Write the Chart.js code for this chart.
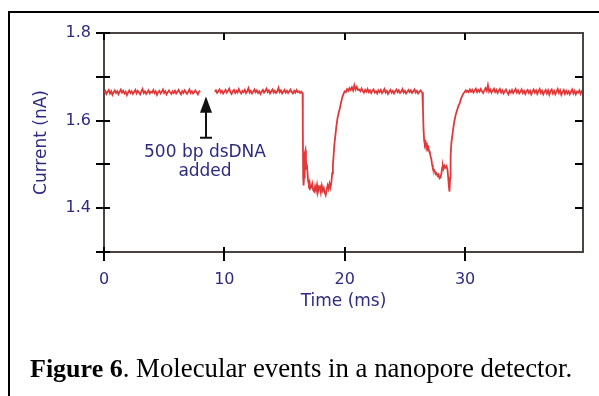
<!DOCTYPE html>
<html>
<head>
<meta charset="utf-8">
<script src="https://cdn.jsdelivr.net/npm/chart.js@4.4.1/dist/chart.umd.min.js"></script>
<style>
  html, body { margin: 0; padding: 0; background: #fff; }
  #wrap { position: relative; width: 599px; height: 396px; overflow: hidden; }
  #frame { position: absolute; left: 8px; top: 11px; width: 620px; height: 420px; border-left: 2px solid #000; border-top: 2px solid #000; }
  canvas { position: absolute; left: 0; top: 0; }
</style>
</head>
<body>
<div id="wrap">
  <div id="frame"></div>
  <canvas id="c" width="599" height="396"></canvas>
</div>
<script>
// ---------------- data ----------------
const xTicks = [0, 10, 20, 30];
const xTickLabels = ['0', '10', '20', '30'];
const yTicks = [1.4, 1.6, 1.8];
const yTickLabels = ['1.4', '1.6', '1.8'];
const yMinorTicks = [1.3, 1.5, 1.7];
const xTitle = 'Time (ms)';
const yTitle = 'Current (nA)';
const captionBold = 'Figure 6';
const captionRest = '. Molecular events in a nanopore detector.';

// baseline before DNA added (t = 0 .. 8.0 ms, every 0.1 ms)
const baseAStart = 0, baseStep = 0.1;
const baseA = [
1.664,1.668,1.661,1.666,1.670,1.662,1.667,1.659,1.665,1.669,
1.663,1.667,1.660,1.666,1.671,1.664,1.668,1.662,1.666,1.658,
1.664,1.669,1.663,1.667,1.661,1.665,1.670,1.662,1.668,1.664,
1.660,1.666,1.672,1.663,1.667,1.661,1.665,1.669,1.662,1.666,
1.664,1.670,1.663,1.667,1.659,1.665,1.668,1.662,1.666,1.671,
1.663,1.667,1.660,1.665,1.669,1.664,1.661,1.667,1.663,1.668,
1.662,1.666,1.670,1.664,1.660,1.667,1.663,1.669,1.665,1.661,
1.666,1.671,1.663,1.667,1.662,1.665,1.669,1.664,1.660,1.666,
1.668];
const gapTime = 8.6;
// baseline after DNA added (t = 9.2 .. 16.4 ms)
const baseBStart = 9.2;
const baseB = [
1.666,1.669,1.663,1.667,1.671,1.664,1.668,1.662,1.666,1.670,
1.664,1.668,1.673,1.665,1.661,1.667,1.670,1.663,1.668,1.664,
1.672,1.666,1.662,1.668,1.665,1.670,1.663,1.667,1.674,1.664,
1.668,1.662,1.666,1.671,1.665,1.669,1.663,1.667,1.661,1.666,
1.670,1.664,1.668,1.673,1.665,1.669,1.662,1.667,1.671,1.664,
1.668,1.663,1.667,1.675,1.665,1.669,1.662,1.666,1.670,1.664,
1.668,1.663,1.667,1.671,1.665,1.662,1.668,1.664,1.670,1.665,
1.667,1.663,1.666];
// first translocation event
const event1T = [16.5,16.52,16.55,16.58,16.62,16.66,16.70,16.74,16.78,16.82,16.86,16.90,16.96,17.02,17.08,17.14,17.22,17.30,17.38,17.46,17.54,17.62,17.70,17.78,17.86,17.94,18.02,18.10,18.18,18.26,18.34,18.42,18.50,18.58,18.66,18.74,18.82,18.90,18.96,19.02,19.08,19.14,19.22,19.30,19.40,19.50,19.60,19.70,19.80,19.90,20.0,20.1,20.2,20.3,20.4,20.5,20.6,20.7,20.8,20.9,21.0,21.1];
const event1V = [1.663,1.58,1.47,1.452,1.47,1.50,1.525,1.532,1.51,1.49,1.50,1.485,1.462,1.455,1.46,1.445,1.448,1.456,1.441,1.438,1.45,1.44,1.453,1.437,1.445,1.449,1.436,1.451,1.44,1.446,1.436,1.43,1.442,1.452,1.444,1.456,1.447,1.46,1.48,1.50,1.52,1.545,1.565,1.585,1.605,1.618,1.628,1.642,1.653,1.661,1.667,1.665,1.672,1.668,1.674,1.670,1.676,1.669,1.681,1.671,1.677,1.670];
// baseline between events (t = 21.2 .. 26.4 ms)
const baseCStart = 21.2;
const baseC = [
1.671,1.667,1.673,1.668,1.664,1.670,1.666,1.672,1.665,1.669,
1.663,1.668,1.671,1.664,1.667,1.662,1.669,1.665,1.670,1.663,
1.667,1.672,1.664,1.668,1.661,1.666,1.670,1.664,1.668,1.662,
1.667,1.671,1.665,1.669,1.663,1.666,1.672,1.664,1.668,1.662,
1.666,1.670,1.665,1.669,1.663,1.667,1.671,1.664,1.668,1.662,
1.666,1.669,1.665];
// second translocation event
const event2T = [26.45,26.5,26.55,26.6,26.66,26.72,26.78,26.84,26.90,26.96,27.02,27.08,27.14,27.20,27.26,27.32,27.40,27.48,27.56,27.64,27.72,27.80,27.88,27.96,28.04,28.10,28.16,28.22,28.30,28.38,28.46,28.54,28.60,28.66,28.71,28.76,28.80,28.86,28.94,29.02,29.10,29.18,29.26,29.36,29.46,29.56,29.66,29.76,29.86,29.96,30.06,30.12];
const event2V = [1.664,1.63,1.58,1.555,1.545,1.55,1.538,1.544,1.535,1.538,1.53,1.525,1.518,1.512,1.50,1.492,1.488,1.485,1.478,1.48,1.474,1.477,1.468,1.47,1.48,1.493,1.497,1.49,1.497,1.493,1.496,1.488,1.47,1.448,1.438,1.47,1.52,1.548,1.565,1.582,1.597,1.608,1.617,1.626,1.634,1.64,1.65,1.656,1.662,1.665,1.669,1.666];
// final baseline (t = 30.2 .. 39.8 ms)
const baseDStart = 30.2;
const baseD = [
1.668,1.665,1.671,1.666,1.670,1.664,1.669,1.673,1.665,1.670,
1.666,1.672,1.667,1.663,1.669,1.674,1.668,1.681,1.666,1.671,
1.664,1.669,1.673,1.665,1.670,1.663,1.668,1.672,1.664,1.669,
1.662,1.667,1.671,1.665,1.660,1.668,1.664,1.670,1.663,1.667,
1.672,1.664,1.669,1.662,1.666,1.671,1.663,1.668,1.661,1.667,
1.670,1.663,1.668,1.660,1.666,1.671,1.664,1.669,1.661,1.667,
1.672,1.663,1.668,1.660,1.666,1.670,1.662,1.669,1.659,1.667,
1.671,1.662,1.668,1.660,1.666,1.672,1.663,1.669,1.659,1.665,
1.670,1.661,1.668,1.662,1.667,1.660,1.666,1.671,1.662,1.668,
1.660,1.666,1.664,1.669,1.661,1.667,1.663];

// annotation: arrow at the moment DNA was added
const noteTime = 8.47;
const noteArrowLevels = [1.655, 1.618, 1.561]; // tip, head base, tail
const noteLines = ['500 bp dsDNA', 'added'];
const noteLineLevels = [1.518, 1.473];

// ---------------- build points ----------------
function seg(start, vals) {
  return vals.map((v, i) => ({ x: +(start + i * baseStep).toFixed(2), y: v }));
}
function pairs(ts, vs) { return ts.map((t, i) => ({ x: t, y: vs[i] })); }
const points = [].concat(
  seg(baseAStart, baseA),
  [{ x: gapTime, y: null }],
  seg(baseBStart, baseB),
  pairs(event1T, event1V),
  seg(baseCStart, baseC),
  pairs(event2T, event2V),
  seg(baseDStart, baseD)
);

const labelColor = '#2e2a80';
const axisColor = '#4a4542';

const decor = {
  id: 'decor',
  afterDraw(chart) {
    const ctx = chart.ctx;
    const xs = chart.scales.x, ys = chart.scales.y;
    const a = chart.chartArea;
    ctx.save();
    // top and right frame of plot
    ctx.strokeStyle = axisColor;
    ctx.lineWidth = 2;
    ctx.beginPath();
    ctx.moveTo(a.left, a.top); ctx.lineTo(a.right, a.top); ctx.lineTo(a.right, a.bottom);
    ctx.stroke();
    // tick marks
    ctx.strokeStyle = '#000';
    ctx.lineWidth = 2;
    ctx.beginPath();
    yTicks.concat(yMinorTicks).forEach(v => {
      const p = Math.round(ys.getPixelForValue(v));
      ctx.moveTo(a.left - 8, p); ctx.lineTo(a.left + 6, p);
      if (v > 1.35 && v < 1.75) { ctx.moveTo(a.right - 8, p); ctx.lineTo(a.right, p); }
    });
    xTicks.forEach(v => {
      const p = Math.round(xs.getPixelForValue(v));
      ctx.moveTo(p, a.bottom - 5); ctx.lineTo(p, a.bottom + 9);
      ctx.moveTo(p, a.top); ctx.lineTo(p, a.top + 7);
    });
    ctx.moveTo(a.left - 8, a.top); ctx.lineTo(a.left, a.top);
    ctx.stroke();

    // annotation arrow
    const ax = Math.round(xs.getPixelForValue(noteTime));
    const tip = ys.getPixelForValue(noteArrowLevels[0]);
    const hb = ys.getPixelForValue(noteArrowLevels[1]);
    const tail = ys.getPixelForValue(noteArrowLevels[2]);
    ctx.fillStyle = '#111';
    ctx.beginPath();
    ctx.moveTo(ax, tip); ctx.lineTo(ax + 6, hb); ctx.lineTo(ax - 6, hb); ctx.closePath();
    ctx.fill();
    ctx.strokeStyle = '#111';
    ctx.lineWidth = 2;
    ctx.beginPath();
    ctx.moveTo(ax, hb - 1); ctx.lineTo(ax, tail);
    ctx.moveTo(ax - 6, tail); ctx.lineTo(ax + 6, tail);
    ctx.stroke();
    ctx.fillStyle = labelColor;
    ctx.font = '17px "DejaVu Sans"';
    ctx.textAlign = 'center';
    ctx.textBaseline = 'alphabetic';
    noteLines.forEach((t, i) => ctx.fillText(t, ax - 1, ys.getPixelForValue(noteLineLevels[i])));

    // caption
    ctx.fillStyle = '#000';
    ctx.textAlign = 'left';
    ctx.font = 'bold 26px "Liberation Serif"';
    ctx.fillText(captionBold, 30, 377);
    const w = ctx.measureText(captionBold).width;
    ctx.font = '26.8px "Liberation Serif"';
    ctx.fillText(captionRest, 30 + w, 377);
    ctx.restore();
  }
};

new Chart(document.getElementById('c'), {
  type: 'line',
  data: {
    datasets: [{
      data: points,
      borderColor: '#e0393a',
      borderWidth: 1.8,
      pointRadius: 0,
      tension: 0,
      spanGaps: false,
      fill: false
    }]
  },
  options: {
    responsive: false,
    animation: false,
    devicePixelRatio: 1,
    layout: { padding: { left: 0, top: 33, right: 16, bottom: 0 } },
    plugins: { legend: { display: false }, tooltip: { enabled: false } },
    scales: {
      x: {
        type: 'linear', min: 0, max: 39.8,
        afterBuildTicks: s => { s.ticks = xTicks.map(v => ({ value: v })); },
        afterFit: s => { s.height = 144; },
        ticks: {
          color: labelColor, font: { family: 'DejaVu Sans', size: 16 }, padding: 18,
          maxRotation: 0, autoSkip: false,
          callback: (v) => xTickLabels[xTicks.indexOf(v)]
        },
        grid: { display: true, drawOnChartArea: false, drawTicks: false },
        border: { display: true, color: axisColor, width: 2 },
        title: { display: true, text: xTitle, color: labelColor, font: { family: 'DejaVu Sans', size: 17 }, padding: { top: 0, bottom: 84 } }
      },
      y: {
        type: 'linear', min: 1.3, max: 1.8,
        afterBuildTicks: s => { s.ticks = yTicks.map(v => ({ value: v })); },
        afterFit: s => { s.width = 104; },
        ticks: {
          color: labelColor, font: { family: 'DejaVu Sans', size: 16 }, padding: 13, autoSkip: false,
          callback: (v) => yTickLabels[yTicks.indexOf(v)]
        },
        grid: { display: true, drawOnChartArea: false, drawTicks: false },
        border: { display: true, color: axisColor, width: 2 },
        title: { display: true, text: yTitle, color: labelColor, font: { family: 'DejaVu Sans', size: 17 }, padding: { top: 31, bottom: 0 } }
      }
    }
  },
  plugins: [decor]
});
</script>
</body>
</html>
